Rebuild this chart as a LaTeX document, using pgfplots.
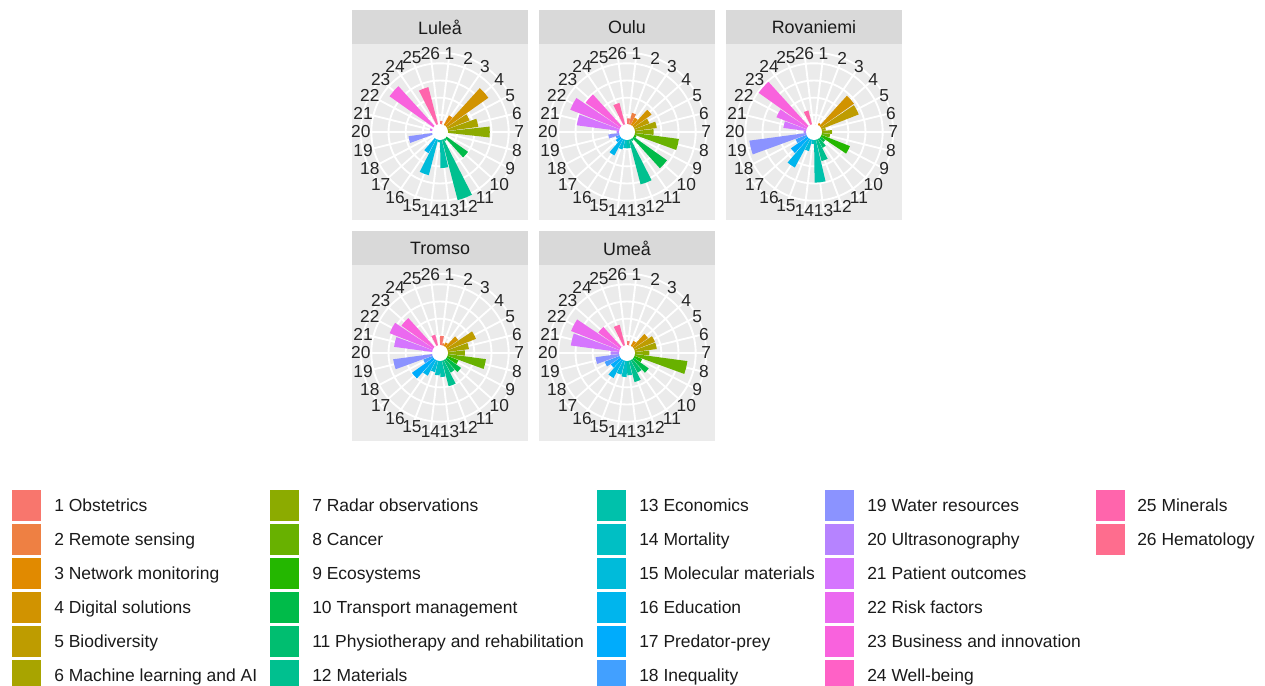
\documentclass[border=0pt]{standalone}
\usepackage{pgfplots}
\pgfplotsset{compat=1.18}
\usepackage{pgfplotstable}
\usepackage{fontspec}
\setmainfont{Liberation Sans}

% ggplot hue palette, 26 topics
\definecolor{c1}{HTML}{F8766D}
\definecolor{c2}{HTML}{EE8043}
\definecolor{c3}{HTML}{E18A00}
\definecolor{c4}{HTML}{D19300}
\definecolor{c5}{HTML}{BE9C00}
\definecolor{c6}{HTML}{A8A400}
\definecolor{c7}{HTML}{8CAB00}
\definecolor{c8}{HTML}{68B100}
\definecolor{c9}{HTML}{24B700}
\definecolor{c10}{HTML}{00BB49}
\definecolor{c11}{HTML}{00BE70}
\definecolor{c12}{HTML}{00C08F}
\definecolor{c13}{HTML}{00C1AB}
\definecolor{c14}{HTML}{00BFC4}
\definecolor{c15}{HTML}{00BBDA}
\definecolor{c16}{HTML}{00B5ED}
\definecolor{c17}{HTML}{00ACFC}
\definecolor{c18}{HTML}{42A0FF}
\definecolor{c19}{HTML}{8B93FF}
\definecolor{c20}{HTML}{B683FF}
\definecolor{c21}{HTML}{D575FE}
\definecolor{c22}{HTML}{EB69F0}
\definecolor{c23}{HTML}{F962DD}
\definecolor{c24}{HTML}{FF61C6}
\definecolor{c25}{HTML}{FF65AC}
\definecolor{c26}{HTML}{FE6D8E}
\definecolor{panelgray}{HTML}{EBEBEB}
\definecolor{stripgray}{HTML}{D9D9D9}
\definecolor{tickc}{HTML}{262626}
\definecolor{txt}{HTML}{1A1A1A}

% share of each topic (%), topics 1..26
\pgfplotstableread{
k v
1 1.3
2 0.9
3 2.2
4 6.9
5 3.7
6 4.5
7 5.8
8 0.7
9 0.9
10 4.0
11 1.2
12 8.2
13 4.2
14 1.2
15 5.2
16 2.8
17 0.9
18 0.7
19 3.7
20 0.9
21 1.2
22 0.9
23 7.2
24 0.7
25 5.4
26 0.7
}\tabLulea

\pgfplotstableread{
k v
1 1.6
2 2.3
3 1.9
4 3.5
5 2.8
6 3.5
7 3.1
8 6.1
9 1.2
10 5.7
11 1.2
12 6.3
13 1.9
14 1.9
15 2.1
16 3.1
17 1.6
18 1.4
19 2.2
20 1.2
21 5.9
22 7.1
23 5.9
24 0.9
25 3.5
26 0.9
}\tabOulu

\pgfplotstableread{
k v
1 0.9
2 0.7
3 1.2
4 5.7
5 5.6
6 1.4
7 2.1
8 1.9
9 4.5
10 1.6
11 2.1
12 3.5
13 5.9
14 1.4
15 2.3
16 4.7
17 3.3
18 2.3
19 7.6
20 1.2
21 3.6
22 4.7
23 7.9
24 0.9
25 2.6
26 0.7
}\tabRovaniemi

\pgfplotstableread{
k v
1 2.0
2 1.2
3 1.4
4 2.6
5 4.5
6 3.4
7 2.9
8 5.4
9 2.3
10 3.0
11 2.6
12 4.0
13 2.8
14 2.6
15 2.3
16 3.0
17 4.0
18 2.1
19 5.5
20 0.9
21 5.4
22 6.3
23 5.5
24 0.9
25 2.2
26 0.7
}\tabTromso

\pgfplotstableread{
k v
1 1.4
2 0.9
3 1.6
4 3.0
5 3.5
6 3.5
7 2.6
8 7.1
9 1.9
10 3.1
11 2.6
12 3.5
13 2.6
14 2.8
15 2.6
16 3.3
17 2.3
18 2.8
19 3.7
20 1.9
21 6.6
22 7.0
23 4.1
24 0.9
25 3.4
26 0.7
}\tabUmea

% one wedge per topic, clockwise from the top, 90% of the slot
\newcommand{\wedges}[1]{%
  \pgfplotsforeachungrouped \i in {0,...,25}{%
    \pgfplotstablegetelem{\i}{v}\of#1%
    \pgfmathsetmacro\rr{\pgfplotsretval}%
    \pgfmathsetmacro\xa{\rr*sin((\i+0.05)*360/26)}%
    \pgfmathsetmacro\ya{\rr*cos((\i+0.05)*360/26)}%
    \pgfmathsetmacro\xb{\rr*sin((\i+0.5)*360/26)}%
    \pgfmathsetmacro\yb{\rr*cos((\i+0.5)*360/26)}%
    \pgfmathsetmacro\xc{\rr*sin((\i+0.95)*360/26)}%
    \pgfmathsetmacro\yc{\rr*cos((\i+0.95)*360/26)}%
    \pgfmathtruncatemacro\ci{\i+1}%
    \edef\doplot{\noexpand\addplot[draw=none, fill=c\ci]
      coordinates {(0,0) (\xa,\ya) (\xb,\yb) (\xc,\yc)};}%
    \doplot
  }%
  \fill[white] (axis cs:0,0) circle[radius=6pt];
}

\pgfplotsset{rose/.style={
  scale only axis, width=132pt, height=132pt,
  anchor=center,
  xmin=-10.25, xmax=10.25, ymin=-10.25, ymax=10.25,
  axis lines=none, ticks=none}}

\tikzset{tlab/.style={font=\fontsize{13}{14}\selectfont, text=tickc, inner sep=0pt}}

% panel background, strip, grid and topic numbers (px units)
\newcommand{\panelbg}[3]{%
  \fill[panelgray] (#1-88,#2-88) rectangle (#1+88,#2+88);
  \fill[stripgray] (#1-88,#2-122) rectangle (#1+88,#2-88);
  \node[font=\fontsize{13.4}{15}\selectfont, text=txt] at (#1,#2-105) {#3};
  \foreach \r in {17.17,34.34,51.51,68.68,79.2}
    \draw[white, line width=1.4pt] (#1,#2) circle[radius=\r];
  \foreach \k in {0,...,25}
    \draw[white, line width=1.4pt] (#1,#2) -- ++({79.2*sin((\k+0.5)*360/26)},{-79.2*cos((\k+0.5)*360/26)});
  \foreach \k in {1,...,26}
    \node[tlab] at ({#1+79.2*sin((\k-0.5)*360/26)},{#2-79.2*cos((\k-0.5)*360/26)}) {\k};
  \coordinate (c#3) at (#1,#2);
}

\begin{document}
\begin{tikzpicture}
\useasboundingbox (0pt,0pt) rectangle (948.75pt,-514.5pt);
\begin{scope}[x=0.75pt, y=-0.75pt]
  \panelbg{440}{132}{Luleå}
  \panelbg{627}{132}{Oulu}
  \panelbg{814}{132}{Rovaniemi}
  \panelbg{440}{353}{Tromso}
  \panelbg{627}{353}{Umeå}
\end{scope}

\begin{axis}[rose, at={(cLuleå)}]
  \wedges{\tabLulea}
\end{axis}
\begin{axis}[rose, at={(cOulu)}]
  \wedges{\tabOulu}
\end{axis}
\begin{axis}[rose, at={(cRovaniemi)}]
  \wedges{\tabRovaniemi}
\end{axis}
\begin{axis}[rose, at={(cTromso)}]
  \wedges{\tabTromso}
\end{axis}
\begin{axis}[rose, at={(cUmeå)}]
  \wedges{\tabUmea}
\end{axis}

\begin{scope}[x=0.75pt, y=-0.75pt]
  \foreach \nm [count=\n] in {Obstetrics,Remote sensing,Network monitoring,%
    Digital solutions,Biodiversity,Machine learning and AI,Radar observations,%
    Cancer,Ecosystems,Transport management,Physiotherapy and rehabilitation,%
    Materials,Economics,Mortality,Molecular materials,Education,Predator-prey,%
    Inequality,Water resources,Ultrasonography,Patient outcomes,Risk factors,%
    Business and innovation,Well-being,Minerals,Hematology}{
    \pgfmathtruncatemacro\col{(\n-1)/6}
    \pgfmathtruncatemacro\row{mod(\n-1,6)}
    \pgfmathsetmacro\kx{{12,270,597,825,1096}[\col]}
    \pgfmathsetmacro\tx{{54,312,639,867,1137}[\col]}
    \pgfmathsetmacro\ky{505+34*\row}
    \fill[c\n] (\kx,\ky-15.5) rectangle ++(29,31);
    \node[anchor=base west, inner sep=0pt, text=txt,
      font=\fontsize{13.1}{14}\selectfont] at (\tx,\ky+6) {\n\ \nm};
  }
\end{scope}
\end{tikzpicture}
\end{document}
